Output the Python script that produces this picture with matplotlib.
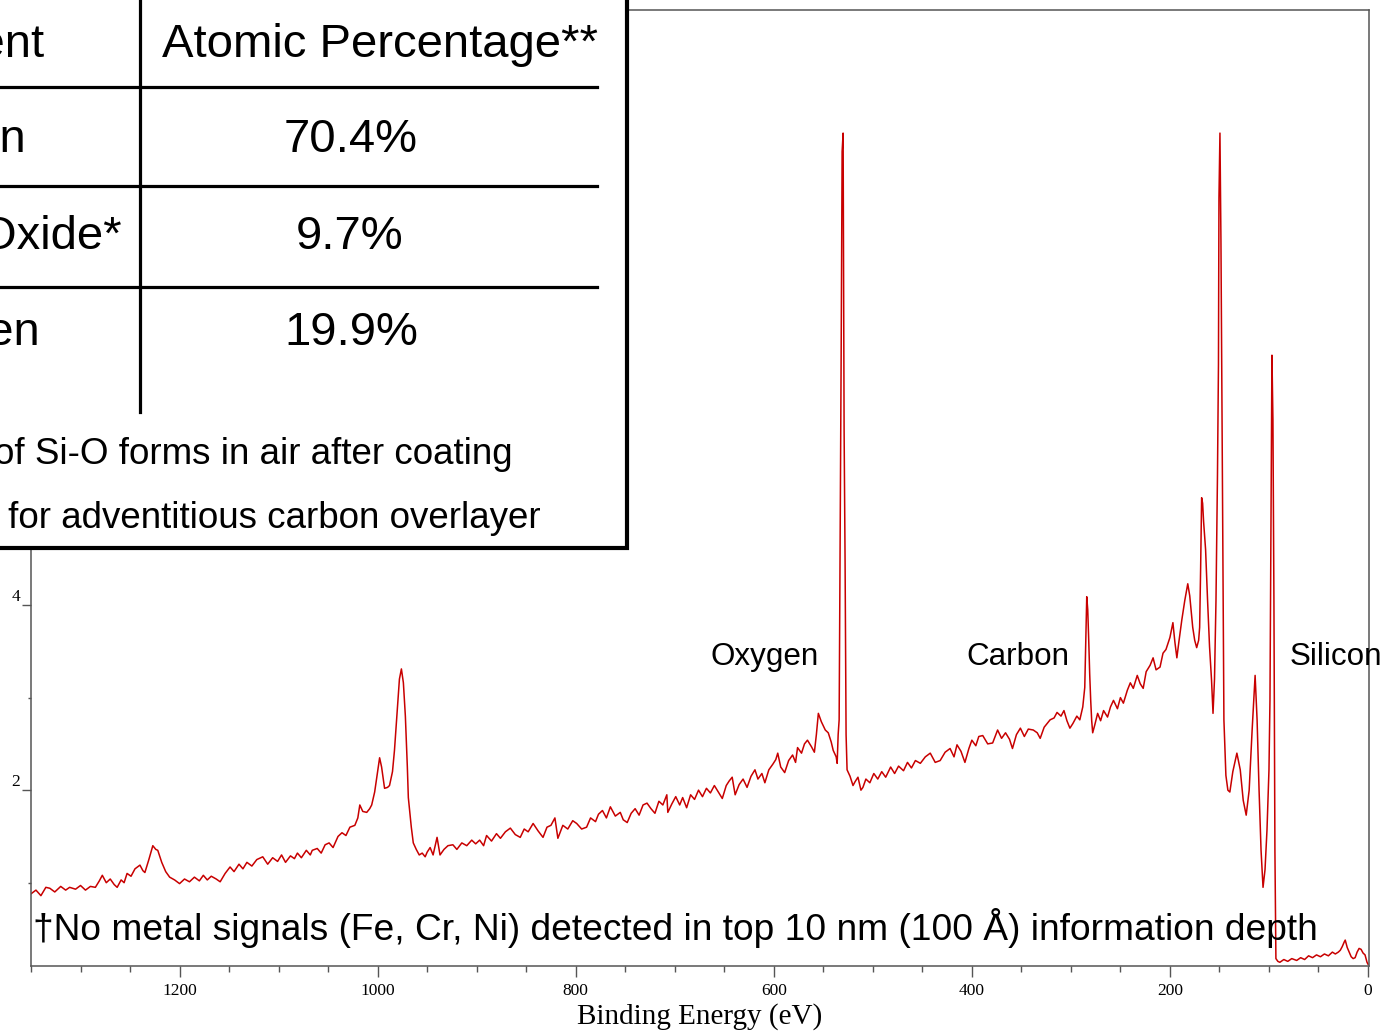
import numpy as np
import matplotlib
matplotlib.use('Agg')
import matplotlib.pyplot as plt
from matplotlib.patches import Rectangle

# XPS survey spectrum
binding_energy = [1350, 1345, 1340, 1335, 1331, 1326, 1320, 1315, 1311, 1305, 1300, 1295, 1290, 1285,
                  1281, 1278, 1274, 1270, 1266, 1263, 1259, 1256, 1253, 1249, 1245, 1240, 1237, 1235,
                  1231, 1227, 1224, 1222, 1218, 1214, 1210, 1205, 1200, 1195, 1190, 1185, 1180, 1176,
                  1172, 1168, 1163, 1159, 1154, 1149, 1145, 1140, 1136, 1132, 1127, 1122, 1116, 1111,
                  1106, 1101, 1097, 1093, 1088, 1084, 1081, 1077, 1072, 1068, 1066, 1061, 1057, 1053,
                  1049, 1045, 1040, 1036, 1032, 1028, 1023, 1020, 1018, 1015, 1011, 1008, 1006, 1003,
                  1000, 998, 996, 993, 990, 988, 985, 983, 980, 978, 976, 974, 972, 970, 969, 966, 964,
                  961, 958, 955, 952, 950, 947, 944, 940, 937, 933, 929, 924, 920, 915, 910, 905, 901,
                  897, 893, 890, 885, 880, 876, 871, 866, 861, 856, 852, 848, 843, 838, 833, 829, 825,
                  821, 818, 813, 808, 803, 799, 794, 789, 785, 780, 777, 773, 769, 765, 760, 755, 752,
                  748, 744, 740, 736, 732, 728, 724, 720, 716, 712, 708, 707, 703, 699, 695, 692, 688,
                  684, 680, 676, 672, 668, 664, 660, 656, 652, 648, 645, 642, 639, 635, 631, 627, 623,
                  619, 616, 612, 609, 605, 601, 598, 596, 593, 589, 585, 581, 578, 576, 572, 569, 566,
                  562, 559, 557, 555, 552, 548, 545, 542, 540, 537, 536, 535, 534, 533, 532, 531, 530,
                  529, 528, 527, 526, 523, 520, 518, 515, 512, 510, 507, 503, 499, 495, 491, 487, 482,
                  478, 474, 469, 465, 461, 457, 452, 447, 442, 437, 432, 427, 422, 418, 415, 411, 407,
                  403, 400, 396, 393, 389, 384, 379, 374, 370, 366, 362, 359, 355, 351, 347, 343, 338,
                  334, 331, 327, 324, 321, 317, 314, 310, 307, 304, 301, 298, 294, 291, 288, 286, 285,
                  284, 283, 282, 281, 280, 279, 278, 276, 273, 270, 267, 263, 260, 257, 253, 250, 247,
                  243, 240, 237, 233, 230, 227, 224, 220, 217, 214, 210, 207, 204, 200, 197, 195, 193,
                  191, 188, 185, 182, 180, 177, 175, 173, 171, 170, 169, 168, 167, 166, 164, 162, 160,
                  158, 156.5, 155, 153.5, 152, 151, 150.5, 149.5, 148.5, 147.5, 146.5, 145.5, 143.5,
                  141.5, 139.5, 136.5, 132.4, 129, 126, 123, 120, 117, 114, 112, 110, 108, 106, 104,
                  102, 100, 99, 98, 97, 96, 95, 94, 93, 91, 89, 85, 81, 77, 72, 68, 64, 60, 56, 52, 48,
                  44, 40, 36, 33, 30, 28, 26, 24, 23, 21, 19, 17, 15, 13, 11, 9, 7, 5, 3, 1, 0]
counts = [0.88, 0.92, 0.86, 0.95, 0.94, 0.90, 0.96, 0.92, 0.95, 0.93, 0.97, 0.92, 0.96, 0.95,
          1.02, 1.08, 1.00, 1.04, 0.98, 0.95, 1.03, 1.00, 1.10, 1.07, 1.15, 1.19, 1.13, 1.11,
          1.25, 1.40, 1.36, 1.35, 1.22, 1.12, 1.06, 1.03, 0.99, 1.04, 1.01, 1.06, 1.02, 1.08,
          1.03, 1.07, 1.04, 1.01, 1.10, 1.17, 1.12, 1.20, 1.15, 1.22, 1.18, 1.25, 1.28, 1.20,
          1.27, 1.23, 1.30, 1.22, 1.29, 1.26, 1.32, 1.27, 1.35, 1.30, 1.35, 1.37, 1.32, 1.41,
          1.43, 1.38, 1.50, 1.54, 1.51, 1.60, 1.62, 1.70, 1.84, 1.77, 1.76, 1.80, 1.84, 1.98,
          2.20, 2.35, 2.25, 2.02, 2.03, 2.05, 2.20, 2.43, 2.90, 3.20, 3.31, 3.16, 2.80, 2.25, 1.92, 1.60, 1.43,
          1.36, 1.30, 1.32, 1.28, 1.33, 1.38, 1.30, 1.49, 1.30, 1.36, 1.40, 1.41, 1.36, 1.43, 1.40, 1.46, 1.42,
          1.46, 1.40, 1.51, 1.45, 1.53, 1.48, 1.55, 1.59, 1.52, 1.49, 1.58, 1.55, 1.64, 1.56, 1.49, 1.60, 1.62,
          1.70, 1.48, 1.62, 1.58, 1.67, 1.64, 1.58, 1.60, 1.70, 1.66, 1.74, 1.78, 1.70, 1.82, 1.72, 1.76, 1.68,
          1.65, 1.75, 1.80, 1.73, 1.84, 1.86, 1.80, 1.75, 1.88, 1.84, 1.95, 1.76, 1.85, 1.93, 1.84, 1.92, 1.81,
          1.95, 1.90, 2.00, 1.93, 2.02, 1.97, 2.05, 1.98, 1.91, 2.05, 2.10, 2.14, 1.95, 2.06, 2.12, 2.03, 2.15,
          2.22, 2.12, 2.18, 2.08, 2.22, 2.28, 2.33, 2.40, 2.25, 2.19, 2.32, 2.38, 2.30, 2.46, 2.40, 2.50, 2.54,
          2.47, 2.41, 2.60, 2.83, 2.74, 2.65, 2.62, 2.52, 2.43, 2.36, 2.29, 2.60, 2.76, 4.70, 6.65, 8.90, 9.10,
          5.90, 4.45, 2.60, 2.22, 2.15, 2.05, 2.09, 2.14, 2.00, 2.03, 2.12, 2.08, 2.18, 2.12, 2.20, 2.14, 2.25,
          2.18, 2.26, 2.21, 2.30, 2.24, 2.32, 2.29, 2.36, 2.40, 2.30, 2.32, 2.41, 2.45, 2.36, 2.49, 2.42, 2.30,
          2.45, 2.54, 2.48, 2.58, 2.59, 2.50, 2.51, 2.65, 2.56, 2.62, 2.55, 2.45, 2.60, 2.67, 2.58, 2.66, 2.65,
          2.62, 2.56, 2.68, 2.72, 2.76, 2.78, 2.84, 2.80, 2.86, 2.75, 2.67, 2.72, 2.80, 2.76, 2.90, 3.11, 3.60,
          4.09, 3.95, 3.62, 3.25, 2.97, 2.75, 2.62, 2.70, 2.83, 2.75, 2.86, 2.79, 2.90, 2.97, 2.88, 3.00, 2.94,
          3.08, 3.16, 3.10, 3.24, 3.15, 3.10, 3.28, 3.35, 3.43, 3.30, 3.33, 3.48, 3.52, 3.65, 3.81, 3.60, 3.43,
          3.60, 3.84, 4.05, 4.23, 4.10, 3.76, 3.62, 3.54, 3.62, 3.76, 4.40, 5.16, 5.10, 4.90, 4.60, 4.05, 3.55,
          3.19, 2.83, 3.20, 4.05, 5.40, 6.60, 8.40, 9.10, 7.95, 6.20, 4.27, 2.76, 2.16,
          2.00, 1.98, 2.20, 2.40, 2.22, 1.89, 1.73, 2.00, 2.65, 3.24, 2.76, 2.00, 1.35, 0.95, 1.14,
          1.57, 2.22, 2.97, 4.92, 6.70, 6.00, 4.05, 1.35, 0.18, 0.15, 0.14, 0.17, 0.15, 0.18, 0.16, 0.19, 0.17, 0.21, 0.19, 0.22, 0.20,
          0.23, 0.21, 0.25, 0.23, 0.25, 0.27, 0.31, 0.36, 0.38, 0.30, 0.25, 0.20, 0.18, 0.19, 0.25, 0.29, 0.28, 0.24, 0.22, 0.14, 0.12]

x_ticks = [1200, 1000, 800, 600, 400, 200, 0]
y_ticks = [2, 4]          # higher ticks sit under the table box
y_minor = [1, 3, 5, 7, 9]

peak_names = ['Oxygen', 'Carbon', 'Silicon']
peak_label_x = [664, 406, 79]

table_header = ['Element', 'Atomic Percentage**']
table_elements = ['Silicon', 'Silicon Oxide*', 'Oxygen']
table_percent = ['70.4%', '9.7%', '19.9%']
table_notes = ['*Thin layer of Si-O forms in air after coating',
               '**Corrected for adventitious carbon overlayer']
footnote = '\u2020No metal signals (Fe, Cr, Ni) detected in top 10 nm (100 \u00c5) information depth'

sans = 'Liberation Sans'
serif = 'Liberation Serif'

fig = plt.figure(figsize=(13.84, 10.31), dpi=100)
ax = fig.add_axes([31/1384, 65/1031, 1338/1384, 956/1031])

ax.plot(binding_energy, counts, color='#c80000', lw=1.1)
ax.set_xlim(1350, -1)
ax.set_ylim(0.1, 10.43)

ax.set_xticks(x_ticks)
ax.set_xticks(np.arange(0, 1351, 50), minor=True)
ax.set_yticks(y_ticks)
ax.set_yticks(y_minor, minor=True)
ax.tick_params(axis='x', which='major', length=8, width=1, pad=4, labelsize=12.5, color='#555555')
ax.tick_params(axis='x', which='minor', length=4.5, width=1, color='#555555')
ax.tick_params(axis='y', which='major', length=6.5, width=1, pad=1.5, labelsize=12.5, color='#555555')
ax.tick_params(axis='y', which='minor', length=2, width=1, color='#555555')
for lab in ax.get_xticklabels() + ax.get_yticklabels():
    lab.set_fontfamily(serif)
for lab in ax.get_yticklabels():
    lab.set_verticalalignment('bottom')
for sp in ax.spines.values():
    sp.set_color('#555555')
    sp.set_linewidth(1.1)
ax.set_xlabel('Binding Energy (eV)', fontsize=21, fontfamily=serif, labelpad=3)

for name, xpos in zip(peak_names, peak_label_x):
    ax.text(xpos, 3.44, name, fontsize=22.6, fontfamily=sans, ha='left', va='center')
ax.text(1348, 0.51, footnote, fontsize=26.7, fontfamily=sans, ha='left', va='center')

# table overlay, drawn in pixel coordinates of the figure
ov = fig.add_axes([0, 0, 1, 1])
ov.set_xlim(0, 1384)
ov.set_ylim(1031, 0)
ov.axis('off')
ov.add_patch(Rectangle((-20, -20), 647, 568, facecolor='white', edgecolor='black', lw=3))
for yl in [87, 186, 287]:
    ov.plot([-5, 597], [yl, yl], color='black', lw=2.3)
ov.plot([140, 140], [-5, 412], color='black', lw=2.3)

row_y = [45, 140, 237, 333]
left_end = [44, 27, 122, 40]
left_col = [table_header[0]] + table_elements
right_col = [table_header[1]] + table_percent
right_cx = [380, 351, 350, 351]
for txt, xe, yy in zip(left_col, left_end, row_y):
    ov.text(xe, yy, txt, fontsize=34, fontfamily=sans, ha='right', va='center')
for txt, xc, yy in zip(right_col, right_cx, row_y):
    ov.text(xc, yy, txt, fontsize=34, fontfamily=sans, ha='center', va='center')
ov.text(513, 455, table_notes[0], fontsize=26.5, fontfamily=sans, ha='right', va='center')
ov.text(541, 518, table_notes[1], fontsize=26.5, fontfamily=sans, ha='right', va='center')

fig.savefig('out.png', dpi=100)
